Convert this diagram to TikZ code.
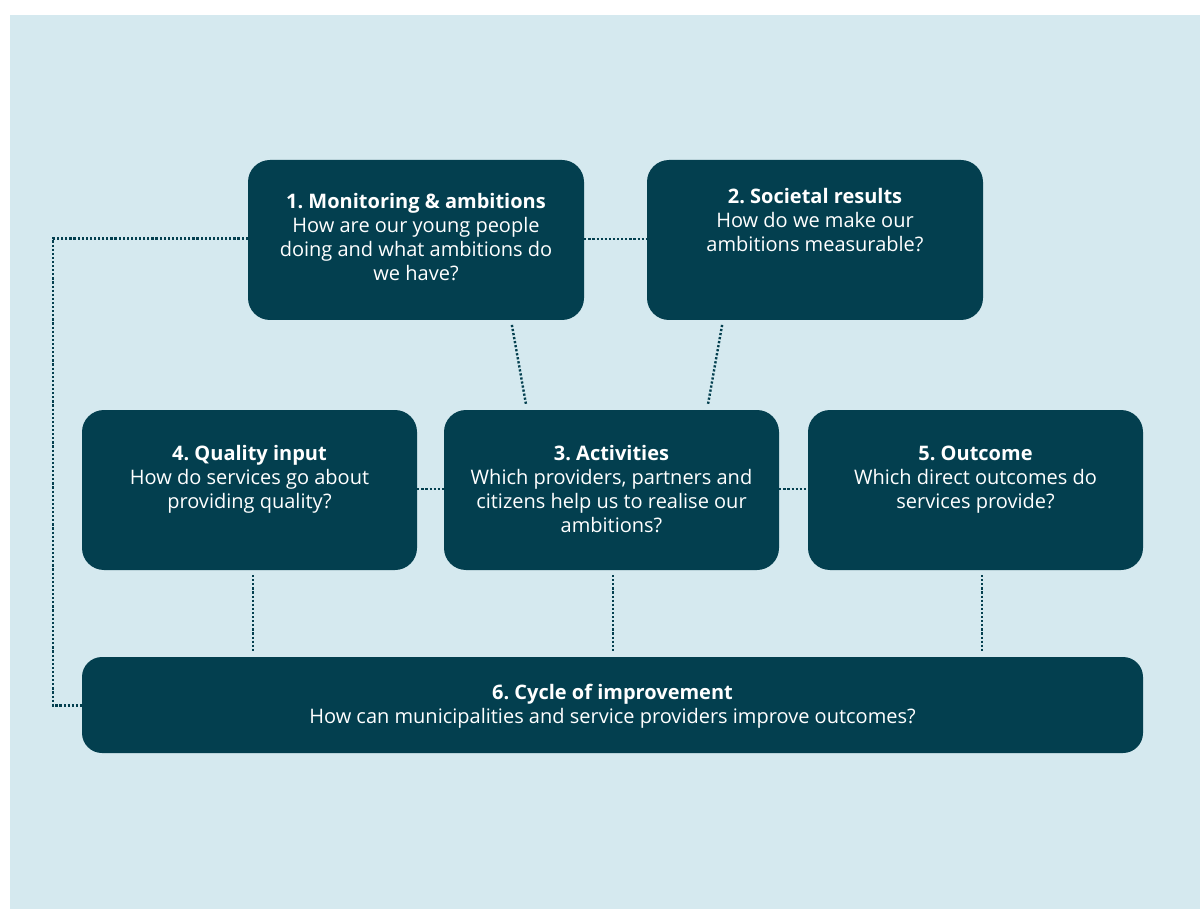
\documentclass[tikz,border=0pt]{standalone}
\usepackage{fontspec}
\setmainfont{Open Sans}
\frenchspacing
\definecolor{boxteal}{HTML}{033F4F}
\definecolor{bgblue}{HTML}{D5E9EF}
\begin{document}
\begin{tikzpicture}[x=1pt,y=-1pt,
  box/.style={fill=boxteal, draw=none, rounded corners=22pt, inner sep=0pt},
  txt/.style={text=white, align=center, inner sep=0pt, anchor=north, font=\fontsize{20}{24}\selectfont},
  dots/.style={draw=boxteal, line width=2.4pt, dash pattern=on 2.2pt off 1.9pt}
]
\useasboundingbox (0,0) rectangle (1200,909);
\fill[white] (0,0) rectangle (1200,909);
\fill[bgblue] (10,15) rectangle (1200,909);

\node[box, minimum width=336pt, minimum height=160pt] (b1) at (416,240) {};
\node[box, minimum width=336pt, minimum height=160pt] (b2) at (815,240) {};
\node[box, minimum width=335pt, minimum height=160pt] (b4) at (249.5,490) {};
\node[box, minimum width=335pt, minimum height=160pt] (b3) at (611.5,490) {};
\node[box, minimum width=335pt, minimum height=160pt] (b5) at (975.5,490) {};
\node[box, minimum width=1061pt, minimum height=96pt, rounded corners=20pt] (b6) at (612.5,705) {};

\node[txt] (t1) at (416,191.5) {\strut\textbf{1. Monitoring \& ambitions}\\How are our young people\\doing and what ambitions do\\we have?};
\node[txt] (t2) at (815,186.5) {\strut\textbf{2. Societal results}\\How do we make our\\ambitions measurable?};
\node[txt] (t4) at (249.5,443) {\strut\textbf{4. Quality input}\\How do services go about\\providing quality?};
\node[txt] (t3) at (611.5,443) {\strut\textbf{3. Activities}\\Which providers, partners and\\citizens help us to realise our\\ambitions?};
\node[txt] (t5) at (975.5,443) {\strut\textbf{5. Outcome}\\Which direct outcomes do\\services provide?};
\node[txt] (t6) at (612.5,682) {\strut\textbf{6. Cycle of improvement}\\How can municipalities and service providers improve outcomes?};

\coordinate (c1) at (53,238.5);
\coordinate (c2) at (53,705.5);
\draw[dots] (b1.west |- c1) -- (c1) -- (c2) -- (b6.west |- c2);
\draw[dots] (b1.east |- 0,239) -- (b2.west |- 0,239);
\draw[dots] (b4.east |- 0,489) -- (b3.west |- 0,489);
\draw[dots] (b3.east |- 0,489) -- (b5.west |- 0,489);
\path (511,320) coordinate (d1a) (527,410) coordinate (d1b) (723,320) coordinate (d2a) (707,410) coordinate (d2b);
\draw[dots, shorten <=5pt, shorten >=5pt] (d1a) -- (d1b);
\draw[dots, shorten <=5pt, shorten >=5pt] (d2a) -- (d2b);
\path (253,570) coordinate (v1a) (613,570) coordinate (v2a) (982,570) coordinate (v3a);
\draw[dots, shorten <=5pt, shorten >=4pt] (v1a) -- (v1a |- b6.north);
\draw[dots, shorten <=5pt, shorten >=4pt] (v2a) -- (v2a |- b6.north);
\draw[dots, shorten <=5pt, shorten >=4pt] (v3a) -- (v3a |- b6.north);
\end{tikzpicture}
\end{document}
